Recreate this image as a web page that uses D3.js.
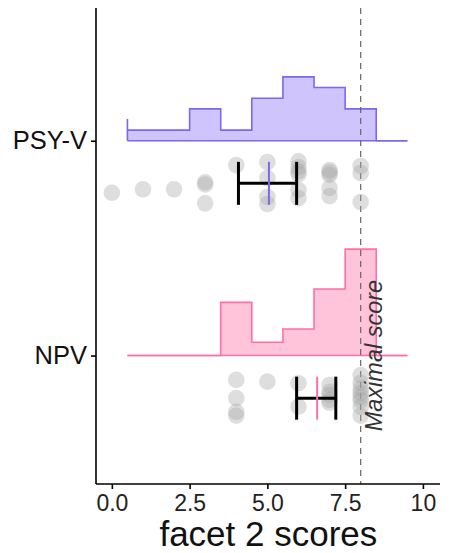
<!DOCTYPE html>
<html>
<head>
<meta charset="utf-8">
<script src="https://cdn.jsdelivr.net/npm/d3@7.9.0/dist/d3.min.js"></script>
<style>
  body { margin: 0; background: #fff; }
  text { font-family: "Liberation Sans", Arial, sans-serif; }
</style>
</head>
<body>
<svg id="chart" width="451" height="553"></svg>
<script>
// groups, bottom to top
const groups = ['NPV', 'PSY-V'];
const groupColor = { 'PSY-V': '#7f66f0', 'NPV': '#ff6fa8' };
const groupFill = { 'PSY-V': '#cfc4fc', 'NPV': '#ffc4da' };

const binCenters = [1, 2, 3, 4, 5, 6, 7, 8, 9];
const psyCounts = [1, 1, 3, 1, 4, 6, 5, 3, 0];
const npvCounts = [0, 0, 0, 4, 1, 2, 5, 8, 0];
const groupN = { 'PSY-V': 25, 'NPV': 20 };
// odd little spike at the left edge of the PSY-V outline
const edgeDensity = { 'PSY-V': 0.082, 'NPV': 0 };

// individual scores with their vertical jitter (-1..1)
const psyScores = [0, 1, 2, 3, 3, 3, 4, 5, 5, 5, 5, 6, 6, 6, 6, 6, 6, 7, 7, 7, 7, 7, 8, 8, 8];
const psyJitter = [0.43, 0.27, 0.27, -0.05, 0.05, 0.91, -0.83, -0.97, -0.24, 0.62, 0.94,
  -1.0, -0.74, -0.55, -0.42, 0.3, 0.67, -0.6, -0.5, -0.38, 0.21, 0.58, -0.79, -0.47, 0.85];
const npvScores = [4, 4, 4, 4, 5, 6, 6, 7, 7, 7, 7, 7, 8, 8, 8, 8, 8, 8, 8, 8];
const npvJitter = [-0.83, 0.0, 0.62, 0.8, -0.75, -0.68, 0.38, -0.6, -0.29, -0.15, 0.08, 0.21,
  -1.05, -0.7, -0.45, -0.24, -0.06, 0.1, 0.4, 0.8];

// mean and error bar limits
const means = { 'PSY-V': 5.05, 'NPV': 6.6 };
const lower = { 'PSY-V': 4.07, 'NPV': 5.94 };
const upper = { 'PSY-V': 5.94, 'NPV': 7.2 };

const maxScore = 8;
const xTicks = [0, 2.5, 5, 7.5, 10];

const svg = d3.select('#chart');
const pLeft = 96, pRight = 440, pTop = 8, pBottom = 484;

const x = d3.scaleLinear().domain([-0.51, 10.55]).range([pLeft, pRight]);
const y = d3.scaleLinear().domain([0.402, 2.618]).range([pBottom, pTop]);
const h = d3.scaleLinear().domain([0, 0.4]).range([0, 106.4]);   // density -> px
const dotOffset = 42.6, jitterPx = 22, capHalf = 21.5;

const series = {
  'PSY-V': { counts: psyCounts, scores: psyScores, jitter: psyJitter },
  'NPV': { counts: npvCounts, scores: npvScores, jitter: npvJitter }
};

groups.forEach((g, gi) => {
  const base = y(gi + 1);
  const s = series[g];
  const pts = binCenters.map((c, i) => ({ x: c - 0.5, d: s.counts[i] / groupN[g] }));
  pts.push({ x: binCenters[binCenters.length - 1] + 0.5, d: 0 });

  const area = d3.area().curve(d3.curveStepAfter)
    .x(d => x(d.x)).y0(base).y1(d => base - h(d.d));
  const line = d3.line().curve(d3.curveStepAfter)
    .x(d => x(d.x)).y(d => base - h(d.d));

  svg.append('path').attr('d', area(pts)).attr('fill', groupFill[g]);
  svg.append('path').attr('d', line(pts)).attr('fill', 'none')
    .attr('stroke', groupColor[g]).attr('stroke-width', 1.6);
  svg.append('line')
    .attr('x1', x(pts[0].x)).attr('x2', x(pts[pts.length - 1].x))
    .attr('y1', base).attr('y2', base)
    .attr('stroke', groupColor[g]).attr('stroke-width', 1.6);
  if (edgeDensity[g] > 0) {
    svg.append('line')
      .attr('x1', x(pts[0].x)).attr('x2', x(pts[0].x))
      .attr('y1', base).attr('y2', base - h(edgeDensity[g]))
      .attr('stroke', groupColor[g]).attr('stroke-width', 1.6);
  }
});

// dashed line for the maximal score
svg.append('line')
  .attr('x1', x(maxScore)).attr('x2', x(maxScore))
  .attr('y1', pTop).attr('y2', pBottom)
  .attr('stroke', '#666').attr('stroke-width', 1.2)
  .attr('stroke-dasharray', '6,5');

groups.forEach((g, gi) => {
  const cy = y(gi + 1) + dotOffset;
  const s = series[g];
  svg.append('g').selectAll('circle')
    .data(s.scores)
    .join('circle')
    .attr('cx', d => x(d))
    .attr('cy', (d, i) => cy + s.jitter[i] * jitterPx)
    .attr('r', 8.3)
    .attr('fill', '#a3a3a3')
    .attr('fill-opacity', 0.36);

  const eb = svg.append('g').attr('stroke', '#000').attr('stroke-width', 3);
  eb.append('line').attr('x1', x(lower[g])).attr('x2', x(upper[g])).attr('y1', cy).attr('y2', cy);
  [lower[g], upper[g]].forEach(v => {
    eb.append('line').attr('x1', x(v)).attr('x2', x(v))
      .attr('y1', cy - capHalf).attr('y2', cy + capHalf);
  });
  svg.append('line')
    .attr('x1', x(means[g])).attr('x2', x(means[g]))
    .attr('y1', cy - capHalf).attr('y2', cy + capHalf)
    .attr('stroke', groupColor[g]).attr('stroke-width', 2);
});

svg.append('text')
  .attr('transform', `translate(${x(maxScore) + 21.5},${y(1)}) rotate(-90)`)
  .attr('text-anchor', 'middle')
  .attr('font-style', 'italic')
  .attr('font-size', 23.5)
  .attr('fill', '#333')
  .text('Maximal score');

// axes
const xAxis = svg.append('g').attr('transform', `translate(0,${pBottom})`)
  .call(d3.axisBottom(x).tickValues(xTicks).tickSize(5).tickPadding(6)
    .tickFormat(d => d === 10 ? '10' : d3.format('.1f')(d)));
xAxis.select('.domain').attr('d', `M${pLeft},0H${pRight}`).attr('stroke-width', 1.6);
xAxis.selectAll('.tick line').attr('stroke-width', 1.6);
xAxis.selectAll('text').attr('font-size', 23).attr('fill', '#222')
  .attr('font-family', '"Liberation Sans", Arial, sans-serif');

const yAxis = svg.append('g').attr('transform', `translate(${pLeft},0)`)
  .call(d3.axisLeft(y).tickValues([1, 2]).tickSize(5).tickPadding(4)
    .tickFormat(d => groups[d - 1]));
yAxis.select('.domain').attr('d', `M0,${pTop}V${pBottom}`).attr('stroke-width', 1.6);
yAxis.selectAll('.tick line').attr('stroke-width', 1.6);
yAxis.selectAll('text').attr('font-size', 25.5).attr('fill', '#111')
  .attr('font-family', '"Liberation Sans", Arial, sans-serif');

svg.append('text')
  .attr('x', (x(0) + x(10)) / 2 + 1).attr('y', 546)
  .attr('text-anchor', 'middle')
  .attr('font-size', 35)
  .attr('fill', '#111')
  .text('facet 2 scores');
</script>
</body>
</html>
